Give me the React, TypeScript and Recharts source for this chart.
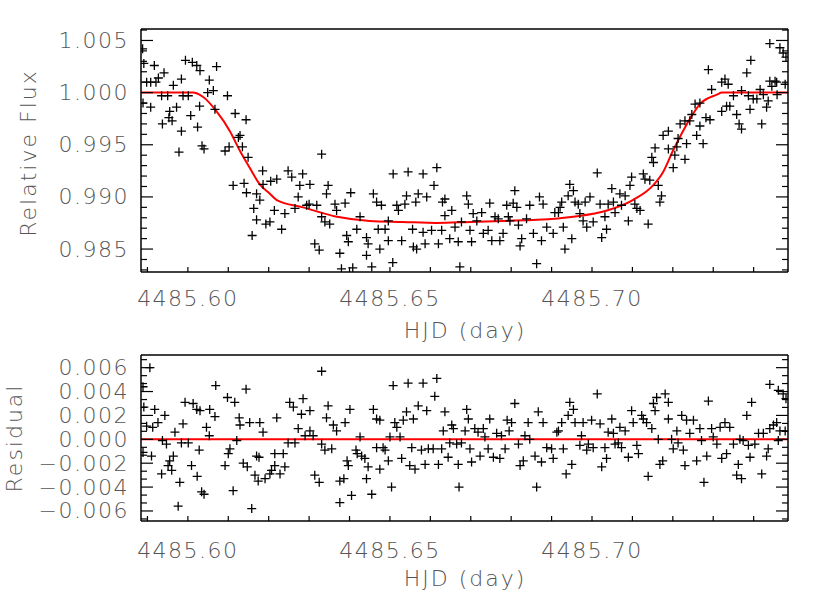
import React from "react";
import { ComposedChart, Scatter, Line, XAxis, YAxis } from "recharts";

// light curve (top panel)
const fluxHjd = [
  4485.5888, 4485.5891, 4485.5898, 4485.5889, 4485.5908, 4485.5917, 4485.5921, 4485.5927, 4485.5941, 4485.5908,
  4485.5935, 4485.5950, 4485.5964, 4485.5937, 4485.5953, 4485.5955, 4485.5961, 4485.5972, 4485.5984, 4485.5978,
  4485.5984, 4485.5988, 4485.5994, 4485.6001, 4485.6007, 4485.6011, 4485.6022, 4485.6024, 4485.6029, 4485.6035,
  4485.6040, 4485.6030, 4485.6049, 4485.6053, 4485.6063, 4485.6067, 4485.6071, 4485.6098, 4485.6092, 4485.6102,
  4485.6117, 4485.6125, 4485.6129, 4485.6135, 4485.6144, 4485.6149, 4485.6112, 4485.6139, 4485.6145, 4485.6170,
  4485.6185, 4485.6186, 4485.6178, 4485.6163, 4485.6170, 4485.6159, 4485.6193, 4485.6203, 4485.6205, 4485.6220, 4485.6214,
  4485.6232, 4485.6240, 4485.6248, 4485.6257, 4485.6284, 4485.6277, 4485.6302, 4485.6273, 4485.6265, 4485.6300,
  4485.6294, 4485.6319, 4485.6331, 4485.6347, 4485.6343, 4485.6331, 4485.6339, 4485.6351, 4485.6314, 4485.6325,
  4485.6364, 4485.6368, 4485.6389, 4485.6403, 4485.6376, 4485.6393, 4485.6397, 4485.6380, 4485.6408, 4485.6418,
  4485.6426, 4485.6442, 4485.6446, 4485.6442, 4485.6455, 4485.6459, 4485.6467, 4485.6479, 4485.6475, 4485.6488,
  4485.6471, 4485.6496, 4485.6496, 4485.6507, 4485.6508, 4485.6517, 4485.6521, 4485.6529, 4485.6537, 4485.6541,
  4485.6545, 4485.6556, 4485.6558, 4485.6566, 4485.6564, 4485.6570, 4485.6582, 4485.6582, 4485.6591, 4485.6603,
  4485.6609, 4485.6616, 4485.6587, 4485.6620, 4485.6628, 4485.6630, 4485.6636, 4485.6653, 4485.6648, 4485.6636,
  4485.6661, 4485.6669, 4485.6673, 4485.6677, 4485.6690, 4485.6694, 4485.6702, 4485.6698, 4485.6706, 4485.6715,
  4485.6727, 4485.6731, 4485.6743, 4485.6747, 4485.6752, 4485.6760, 4485.6772, 4485.6768, 4485.6780, 4485.6789,
  4485.6793, 4485.6797, 4485.6809, 4485.6805, 4485.6814, 4485.6826, 4485.6822, 4485.6818, 4485.6838, 4485.6846,
  4485.6855, 4485.6863, 4485.6870, 4485.6875, 4485.6879, 4485.6888, 4485.6904, 4485.6908, 4485.6917, 4485.6921,
  4485.6929, 4485.6925, 4485.6933, 4485.6945, 4485.6950, 4485.6941, 4485.6954, 4485.6958, 4485.6970, 4485.6966,
  4485.6978, 4485.6987, 4485.6983, 4485.6995, 4485.7003, 4485.7013, 4485.7020, 4485.7024, 4485.7032, 4485.7036,
  4485.7040, 4485.7049, 4485.7053, 4485.7057, 4485.7069, 4485.7073, 4485.7082, 4485.7090, 4485.7094, 4485.7098,
  4485.7106, 4485.7111, 4485.7119, 4485.7127, 4485.7131, 4485.7139, 4485.7143, 4485.7148, 4485.7152, 4485.7156,
  4485.7164, 4485.7168, 4485.7172, 4485.7176, 4485.7189, 4485.7189, 4485.7201, 4485.7205, 4485.7210, 4485.7213,
  4485.7218, 4485.7230, 4485.7230, 4485.7234, 4485.7242, 4485.7247, 4485.7255, 4485.7259, 4485.7267, 4485.7267,
  4485.7275, 4485.7282, 4485.7292, 4485.7288, 4485.7296, 4485.7321, 4485.7321, 4485.7329, 4485.7333, 4485.7337,
  4485.7341, 4485.7350, 4485.7358, 4485.7364, 4485.7370, 4485.7370, 4485.7383, 4485.7387, 4485.7393, 4485.7391,
  4485.7399, 4485.7408, 4485.7416, 4485.7420, 4485.7424, 4485.7432, 4485.7436, 4485.7440, 4485.7445, 4485.7453,
  4485.7457, 4485.7458, 4485.7440, 4485.7465, 4485.7473, 4485.7480, 4485.7478,
];
const fluxValue = [
  1.0042, 1.0028, 1.0010, 0.9990, 1.0010, 1.0026, 1.0010, 1.0014, 1.0019, 0.9986,
  0.9997, 0.9997, 1.0007, 0.9970, 0.9976, 0.9982, 0.9973, 0.9986, 0.9963, 0.9943,
  1.0013, 0.9997, 1.0031, 0.9997, 0.9978, 1.0029, 1.0026, 0.9967, 0.9987, 0.9949,
  0.9946, 1.0021, 1.0000, 1.0012, 1.0002, 0.9984, 1.0025, 0.9997, 0.9944, 0.9948,
  0.9980, 0.9957, 0.9959, 0.9948, 0.9974, 0.9938, 0.9911, 0.9913, 0.9904, 0.9903,
  0.9925, 0.9912, 0.9897, 0.9889, 0.9878, 0.9863, 0.9874, 0.9876, 0.9915, 0.9917, 0.9887,
  0.9869, 0.9884, 0.9925, 0.9919, 0.9922, 0.9911, 0.9912, 0.9900, 0.9889, 0.9893,
  0.9892, 0.9892, 0.9941, 0.9911, 0.9903, 0.9881, 0.9876, 0.9874, 0.9855, 0.9849,
  0.9893, 0.9887, 0.9894, 0.9904, 0.9846, 0.9863, 0.9857, 0.9831, 0.9832, 0.9869,
  0.9881, 0.9861, 0.9855, 0.9844, 0.9833, 0.9903, 0.9895, 0.9892, 0.9850, 0.9869,
  0.9869, 0.9877, 0.9858, 0.9837, 0.9922, 0.9892, 0.9887, 0.9858, 0.9893, 0.9901,
  0.9924, 0.9869, 0.9852, 0.9850, 0.9895, 0.9903, 0.9922, 0.9866, 0.9900, 0.9868,
  0.9911, 0.9928, 0.9855, 0.9855, 0.9868, 0.9895, 0.9898, 0.9887, 0.9860, 0.9882,
  0.9871, 0.9857, 0.9833, 0.9876, 0.9901, 0.9893, 0.9857, 0.9868, 0.9884, 0.9877,
  0.9885, 0.9865, 0.9868, 0.9894, 0.9858, 0.9881, 0.9858, 0.9879, 0.9865, 0.9892,
  0.9881, 0.9877, 0.9906, 0.9894, 0.9890, 0.9860, 0.9853, 0.9873, 0.9879, 0.9892,
  0.9865, 0.9836, 0.9900, 0.9858, 0.9893, 0.9871, 0.9865, 0.9885, 0.9885, 0.9890,
  0.9871, 0.9895, 0.9850, 0.9912, 0.9860, 0.9901, 0.9906, 0.9895, 0.9884, 0.9893,
  0.9877, 0.9871, 0.9895, 0.9900, 0.9876, 0.9923, 0.9893, 0.9861, 0.9881, 0.9869,
  0.9893, 0.9908, 0.9895, 0.9885, 0.9903, 0.9892, 0.9901, 0.9877, 0.9911, 0.9919,
  0.9893, 0.9889, 0.9887, 0.9922, 0.9917, 0.9874, 0.9916, 0.9938, 0.9933, 0.9947,
  0.9911, 0.9895, 0.9901, 0.9959, 0.9963, 0.9946, 0.9928, 0.9940, 0.9948, 0.9956,
  0.9970, 0.9973, 0.9936, 0.9951, 0.9973, 0.9979, 0.9989, 0.9959, 0.9990, 0.9968,
  0.9951, 0.9976, 0.9974, 1.0022, 1.0003, 0.9982, 1.0010, 1.0013, 0.9987, 1.0008,
  0.9987, 0.9997, 0.9979, 0.9970, 0.9965, 1.0002, 1.0019, 0.9997, 1.0031, 0.9984,
  0.9994, 0.9994, 1.0003, 0.9970, 0.9998, 0.9986, 0.9992, 1.0011, 1.0006, 1.0011,
  1.0010, 0.9998, 1.0047, 1.0043, 1.0038, 1.0034, 1.0008,
];

// fitted transit model
const modelHjd = [
  4485.5884, 4485.6012, 4485.6037, 4485.6071, 4485.6104, 4485.6129, 4485.6153, 4485.6178, 4485.6203, 4485.6220,
  4485.6285, 4485.6369, 4485.6450, 4485.6532, 4485.6616, 4485.6698, 4485.6780, 4485.6864, 4485.6954, 4485.7037,
  4485.7101, 4485.7151, 4485.7176, 4485.7200, 4485.7235, 4485.7267, 4485.7309, 4485.7322, 4485.7485,
];
const modelValue = [
  1.0000, 1.0000, 0.9996, 0.9982, 0.9963, 0.9944, 0.9928, 0.9912, 0.9903, 0.9897,
  0.9890, 0.9881, 0.9877, 0.9876, 0.9875, 0.9876, 0.9877, 0.9878, 0.9881, 0.9887,
  0.9897, 0.9911, 0.9924, 0.9944, 0.9970, 0.9989, 0.9998, 1.0000, 1.0000,
];

// residuals (bottom panel)
const resHjd = [
  4485.5906, 4485.5889, 4485.5891, 4485.5918, 4485.5943, 4485.5926, 4485.5898, 4485.5913, 4485.5889, 4485.5910,
  4485.5937, 4485.5947, 4485.5935, 4485.5955, 4485.5964, 4485.5968, 4485.5951, 4485.5960, 4485.5980, 4485.5976,
  4485.5988, 4485.5984, 4485.6001, 4485.5993, 4485.6009, 4485.6013, 4485.6022, 4485.6030, 4485.6028, 4485.6023,
  4485.6034, 4485.6040, 4485.6046, 4485.6053, 4485.6054, 4485.6067, 4485.6069, 4485.6092, 4485.6100, 4485.6104,
  4485.6098, 4485.6112, 4485.6116, 4485.6121, 4485.6127, 4485.6129, 4485.6137, 4485.6144, 4485.6147, 4485.6153,
  4485.6158, 4485.6166, 4485.6170, 4485.6176, 4485.6174, 4485.6178, 4485.6186, 4485.6191, 4485.6203, 4485.6207,
  4485.6215, 4485.6220, 4485.6215, 4485.6236, 4485.6228, 4485.6240, 4485.6248, 4485.6252, 4485.6261, 4485.6265,
  4485.6273, 4485.6281, 4485.6285, 4485.6290, 4485.6302, 4485.6302, 4485.6310, 4485.6314, 4485.6325, 4485.6331,
  4485.6331, 4485.6339, 4485.6343, 4485.6347, 4485.6356, 4485.6360, 4485.6368, 4485.6376, 4485.6376, 4485.6386,
  4485.6389, 4485.6394, 4485.6397, 4485.6401, 4485.6405, 4485.6416, 4485.6419, 4485.6426, 4485.6430, 4485.6438,
  4485.6442, 4485.6446, 4485.6455, 4485.6459, 4485.6467, 4485.6467, 4485.6475, 4485.6475, 4485.6483, 4485.6488,
  4485.6496, 4485.6500, 4485.6504, 4485.6508, 4485.6512, 4485.6517, 4485.6525, 4485.6529, 4485.6533, 4485.6541,
  4485.6545, 4485.6549, 4485.6554, 4485.6562, 4485.6558, 4485.6570, 4485.6578, 4485.6582, 4485.6587, 4485.6591,
  4485.6595, 4485.6607, 4485.6611, 4485.6616, 4485.6620, 4485.6628, 4485.6632, 4485.6636, 4485.6644, 4485.6648,
  4485.6653, 4485.6657, 4485.6665, 4485.6669, 4485.6671, 4485.6677, 4485.6686, 4485.6690, 4485.6694, 4485.6698,
  4485.6702, 4485.6710, 4485.6718, 4485.6723, 4485.6731, 4485.6735, 4485.6743, 4485.6747, 4485.6756, 4485.6764,
  4485.6772, 4485.6776, 4485.6785, 4485.6790, 4485.6795, 4485.6801, 4485.6809, 4485.6818, 4485.6822, 4485.6830,
  4485.6834, 4485.6842, 4485.6846, 4485.6859, 4485.6863, 4485.6867, 4485.6875, 4485.6879, 4485.6888, 4485.6904,
  4485.6900, 4485.6917, 4485.6913, 4485.6925, 4485.6929, 4485.6936, 4485.6941, 4485.6945, 4485.6950, 4485.6954,
  4485.6958, 4485.6970, 4485.6974, 4485.6978, 4485.6987, 4485.6991, 4485.6999, 4485.7003, 4485.7013, 4485.7020,
  4485.7024, 4485.7032, 4485.7036, 4485.7040, 4485.7049, 4485.7053, 4485.7057, 4485.7065, 4485.7069, 4485.7073,
  4485.7082, 4485.7090, 4485.7098, 4485.7102, 4485.7111, 4485.7115, 4485.7123, 4485.7127, 4485.7135, 4485.7139,
  4485.7148, 4485.7152, 4485.7156, 4485.7160, 4485.7164, 4485.7168, 4485.7175, 4485.7181, 4485.7189, 4485.7189,
  4485.7197, 4485.7201, 4485.7210, 4485.7213, 4485.7222, 4485.7226, 4485.7230, 4485.7234, 4485.7242, 4485.7251,
  4485.7259, 4485.7267, 4485.7271, 4485.7277, 4485.7284, 4485.7288, 4485.7296, 4485.7300, 4485.7309, 4485.7317,
  4485.7321, 4485.7329, 4485.7333, 4485.7341, 4485.7350, 4485.7358, 4485.7362, 4485.7370, 4485.7366, 4485.7374,
  4485.7383, 4485.7387, 4485.7391, 4485.7395, 4485.7403, 4485.7412, 4485.7420, 4485.7424, 4485.7432, 4485.7436,
  4485.7440, 4485.7440, 4485.7449, 4485.7457, 4485.7461, 4485.7465, 4485.7461, 4485.7473, 4485.7478, 4485.7480,
];
const resValue = [
  0.0060, 0.0044, 0.0027, 0.0025, 0.0020, 0.0014, 0.0011, 0.0010, -0.0011, -0.0014,
  -0.0001, -0.0004, -0.0029, -0.0018, -0.0014, 0.0006, -0.0022, -0.0026, -0.0036, -0.0056,
  0.0013, -0.0003, -0.0003, 0.0031, -0.0022, 0.0030, 0.0025, 0.0024, -0.0009, -0.0031,
  -0.0044, -0.0046, 0.0010, 0.0003, 0.0025, 0.0019, 0.0045, -0.0022, -0.0012, -0.0008,
  0.0035, -0.0043, 0.0031, -0.0001, 0.0018, 0.0012, -0.0020, 0.0042, -0.0023, 0.0014,
  -0.0058, -0.0030, -0.0014, -0.0015, -0.0035, 0.0014, 0.0006, -0.0033, -0.0029, -0.0026,
  -0.0022, 0.0018, -0.0012, -0.0012, -0.0029, -0.0023, -0.0003, 0.0031, 0.0027, -0.0003,
  0.0009, 0.0021, 0.0034, 0.0003, 0.0007, 0.0024, 0.0003, -0.0030, -0.0036, 0.0057,
  -0.0004, -0.0009, 0.0018, 0.0028, -0.0008, 0.0012, 0.0007, -0.0035, -0.0053, -0.0033,
  0.0014, -0.0018, -0.0022, 0.0025, -0.0047, -0.0009, -0.0012, 0.0002, -0.0014, -0.0016,
  -0.0033, -0.0023, -0.0046, 0.0025, 0.0017, -0.0007, 0.0016, -0.0025, -0.0007, -0.0009,
  -0.0018, 0.0002, -0.0040, 0.0045, 0.0014, 0.0010, 0.0002, -0.0016, 0.0016, 0.0023,
  0.0047, -0.0022, -0.0007, -0.0025, 0.0017, 0.0028, -0.0009, 0.0047, -0.0021, 0.0024,
  -0.0008, -0.0008, 0.0036, 0.0051, -0.0021, -0.0008, 0.0007, 0.0023, -0.0015, -0.0003,
  0.0012, 0.0009, -0.0004, -0.0021, -0.0040, -0.0003, 0.0007, 0.0025, 0.0017, -0.0008,
  -0.0019, 0.0009, 0.0006, -0.0014, 0.0009, 0.0002, -0.0008, 0.0017, -0.0015, 0.0005,
  -0.0016, 0.0003, -0.0008, 0.0016, 0.0007, 0.0014, 0.0030, -0.0004, -0.0022, -0.0018,
  0.0003, 0.0014, 0.0000, -0.0014, -0.0040, 0.0023, -0.0019, 0.0014, -0.0007, -0.0016,
  -0.0008, 0.0007, 0.0006, 0.0014, -0.0008, -0.0029, 0.0020, 0.0031, -0.0021, 0.0025,
  0.0014, -0.0005, 0.0003, 0.0014, -0.0009, -0.0004, 0.0016, -0.0007, 0.0038, 0.0013,
  -0.0023, -0.0007, -0.0016, 0.0006, 0.0017, 0.0005, -0.0004, -0.0003, 0.0010, -0.0007,
  0.0007, -0.0015, 0.0024, 0.0014, -0.0005, -0.0012, 0.0020, 0.0017, 0.0014, -0.0031,
  0.0009, 0.0030, 0.0024, 0.0035, 0.0000, -0.0021, -0.0018, 0.0038, 0.0031, 0.0017,
  0.0000, -0.0008, 0.0007, -0.0003, 0.0020, -0.0009, -0.0022, 0.0016, 0.0005, 0.0016,
  -0.0018, 0.0009, -0.0001, -0.0036, -0.0014, 0.0032, 0.0009, 0.0002, -0.0004, 0.0010,
  -0.0016, 0.0014, -0.0012, 0.0010, -0.0004, -0.0030, -0.0021, -0.0033, 0.0000, -0.0001,
  0.0020, -0.0005, -0.0015, 0.0031, -0.0004, 0.0005, -0.0029, 0.0005, -0.0014, -0.0008,
  0.0009, 0.0046, 0.0012, 0.0014, -0.0001, 0.0007, 0.0041, 0.0038, 0.0007, 0.0034,
];
const zeroHjd = [4485.5884, 4485.7485];
const zeroValue = [0, 0];

// axes
const hjdDomain = [4485.5884, 4485.7485];
const fluxDomain = [0.9828, 1.0061];
const resDomain = [-0.00684, 0.00706];
const hjdTicks = [
  4485.59, 4485.6, 4485.61, 4485.62, 4485.63, 4485.64, 4485.65, 4485.66,
  4485.67, 4485.68, 4485.69, 4485.7, 4485.71, 4485.72, 4485.73, 4485.74,
];
const hjdLabels = [4485.6, 4485.65, 4485.7];
const fluxTicks = [
  0.983, 0.984, 0.985, 0.986, 0.987, 0.988, 0.989, 0.99, 0.991, 0.992, 0.993, 0.994,
  0.995, 0.996, 0.997, 0.998, 0.999, 1.0, 1.001, 1.002, 1.003, 1.004, 1.005, 1.006,
];
const fluxLabels = [0.985, 0.99, 0.995, 1.0, 1.005];
const resTicks = [
  -0.00667, -0.006, -0.00533, -0.00467, -0.004, -0.00333, -0.00267, -0.002, -0.00133, -0.00067, 0,
  0.00067, 0.00133, 0.002, 0.00267, 0.00333, 0.004, 0.00467, 0.00533, 0.006, 0.00667,
];
const resLabels = [-0.006, -0.004, -0.002, 0, 0.002, 0.004, 0.006];

const W = 830;
const H = 593;
const FONT = "'DejaVu Sans', sans-serif";
const TXT = "#555";
const WEIGHT = 200;

const isIn = (list: number[], v: number) => list.some((t) => Math.abs(t - v) < 1e-7);
const fmtRes = (v: number) => (v < -1e-9 ? "\u2212" : "") + Math.abs(v).toFixed(3);

const toPts = (xs: number[], ys: number[]) => xs.map((x, i) => ({ x, y: ys[i] }));

const Plus = (props: any) => {
  const { cx, cy } = props;
  if (cx == null || cy == null) return null;
  return (
    <path
      d={`M${cx - 4.5},${cy}h9M${cx},${cy - 4.5}v9`}
      stroke="#000"
      strokeWidth={1.3}
      fill="none"
    />
  );
};

const bottomTick = (labelDy: number) => (props: any) => {
  const { x, y, payload } = props;
  const v = payload.value;
  return (
    <g>
      <line x1={x} y1={y} x2={x} y2={y - 5} stroke="#000" strokeWidth={1.2} />
      {isIn(hjdLabels, v) && (
        <text x={x} y={y + labelDy} textAnchor="middle" dominantBaseline="central"
          fontFamily={FONT} fontWeight={WEIGHT} fontSize={22} letterSpacing={1.5} fill={TXT}>
          {v.toFixed(2)}
        </text>
      )}
    </g>
  );
};

const topTick = (props: any) => {
  const { x, y } = props;
  return <line x1={x} y1={y} x2={x} y2={y + 5} stroke="#000" strokeWidth={1.2} />;
};

const leftTick = (labels: number[], fmt: (v: number) => string) => (props: any) => {
  const { x, y, payload } = props;
  const v = payload.value;
  const major = isIn(labels, v);
  return (
    <g>
      <line x1={x} y1={y} x2={x + (major ? 12 : 6)} y2={y} stroke="#000" strokeWidth={1.2} />
      {major && (
        <text x={x - 12} y={y} textAnchor="end" dominantBaseline="central"
          fontFamily={FONT} fontWeight={WEIGHT} fontSize={22} letterSpacing={1.5} fill={TXT}>
          {fmt(v)}
        </text>
      )}
    </g>
  );
};

const rightTick = (labels: number[]) => (props: any) => {
  const { x, y, payload } = props;
  const major = isIn(labels, payload.value);
  return <line x1={x} y1={y} x2={x - (major ? 12 : 6)} y2={y} stroke="#000" strokeWidth={1.2} />;
};

const axisLine = { stroke: "#000", strokeWidth: 1.5 };

// plot box edges in pixels: left 141, right 788
function Panel(props: {
  top: number;
  bottom: number;
  yDomain: number[];
  yTicks: number[];
  yLabels: number[];
  fmt: (v: number) => string;
  points: { x: number; y: number }[];
  model: { x: number; y: number }[];
  labelDy: number;
}) {
  const { top, bottom, yDomain, yTicks, yLabels, fmt, points, model, labelDy } = props;
  return (
    <ComposedChart
      width={W}
      height={H}
      margin={{ top: top - 1, right: W - 788 - 1, bottom: H - bottom - 1, left: 140 }}
      style={{ position: "absolute", left: 0, top: 0 }}
    >
      <XAxis xAxisId="b" type="number" dataKey="x" domain={hjdDomain} allowDataOverflow
        ticks={hjdTicks} interval={0} height={1} tickSize={0} tickMargin={0}
        axisLine={axisLine} tickLine={false} tick={bottomTick(labelDy)} />
      <XAxis xAxisId="t" orientation="top" type="number" domain={hjdDomain} allowDataOverflow
        ticks={hjdTicks} interval={0} height={1} tickSize={0} tickMargin={0}
        axisLine={axisLine} tickLine={false} tick={topTick} />
      <YAxis yAxisId="l" type="number" dataKey="y" domain={yDomain} allowDataOverflow
        ticks={yTicks} interval={0} width={1} tickSize={0} tickMargin={0}
        axisLine={axisLine} tickLine={false} tick={leftTick(yLabels, fmt)} />
      <YAxis yAxisId="r" orientation="right" type="number" domain={yDomain} allowDataOverflow
        ticks={yTicks} interval={0} width={1} tickSize={0} tickMargin={0}
        axisLine={axisLine} tickLine={false} tick={rightTick(yLabels)} />
      <Scatter xAxisId="b" yAxisId="l" data={points} dataKey="y" shape={Plus}
        isAnimationActive={false} />
      <Line xAxisId="b" yAxisId="l" data={model} dataKey="y" type="monotone"
        stroke="#ff0000" strokeWidth={2} dot={false} activeDot={false}
        isAnimationActive={false} />
    </ComposedChart>
  );
}

export default function App() {
  const titleStyle = { fontFamily: FONT, fontWeight: WEIGHT, fontSize: 22, letterSpacing: 2, fill: TXT } as const;
  return (
    <div style={{ position: "absolute", left: 0, top: 0, width: W, height: H, background: "#fff", overflow: "hidden" }}>
      <Panel top={29} bottom={272} yDomain={fluxDomain} yTicks={fluxTicks} yLabels={fluxLabels}
        fmt={(v) => v.toFixed(3)} points={toPts(fluxHjd, fluxValue)} model={toPts(modelHjd, modelValue)}
        labelDy={26} />
      <Panel top={355} bottom={521} yDomain={resDomain} yTicks={resTicks} yLabels={resLabels}
        fmt={fmtRes} points={toPts(resHjd, resValue)} model={toPts(zeroHjd, zeroValue)}
        labelDy={29} />
      <svg width={W} height={H} style={{ position: "absolute", left: 0, top: 0, pointerEvents: "none" }}>
        <text x={465} y={330} textAnchor="middle" dominantBaseline="central" {...titleStyle}>HJD (day)</text>
        <text x={465} y={578} textAnchor="middle" dominantBaseline="central" {...titleStyle}>HJD (day)</text>
        <text transform="translate(28,153) rotate(-90)" textAnchor="middle" dominantBaseline="central" {...titleStyle}>Relative Flux</text>
        <text transform="translate(14,438) rotate(-90)" textAnchor="middle" dominantBaseline="central" {...titleStyle}>Residual</text>
      </svg>
    </div>
  );
}
